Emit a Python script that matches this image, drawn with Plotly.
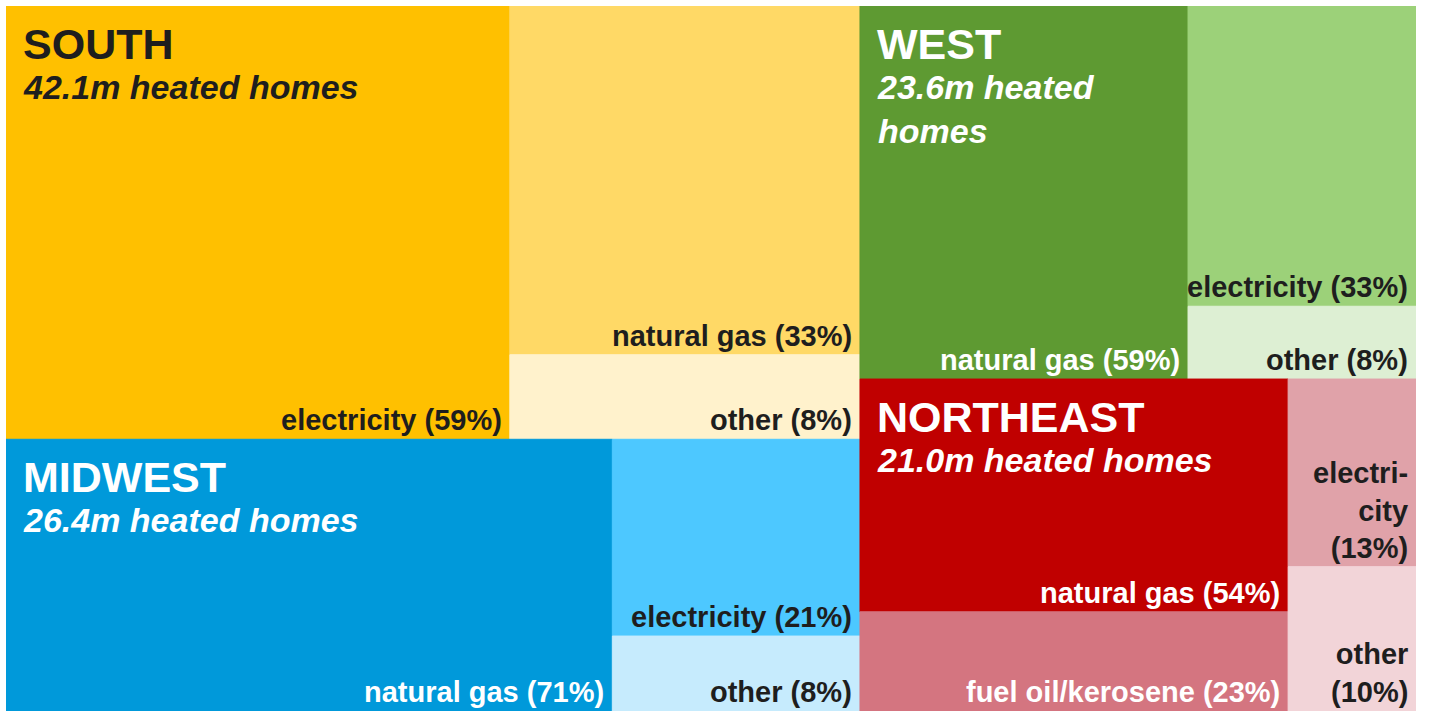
import plotly.graph_objects as go

# ---- data ----
regions = ["SOUTH", "MIDWEST", "WEST", "NORTHEAST"]
homes_m = [42.1, 26.4, 23.6, 21.0]
south_fuels = ["electricity", "natural gas", "other"]
south_pct = [59, 33, 8]
midwest_fuels = ["natural gas", "electricity", "other"]
midwest_pct = [71, 21, 8]
west_fuels = ["natural gas", "electricity", "other"]
west_pct = [59, 33, 8]
northeast_fuels = ["natural gas", "fuel oil/kerosene", "electricity", "other"]
northeast_pct = [54, 23, 13, 10]

# ---- layout structure / styling ----
fuels = {"SOUTH": south_fuels, "MIDWEST": midwest_fuels, "WEST": west_fuels, "NORTHEAST": northeast_fuels}
pcts = {"SOUTH": south_pct, "MIDWEST": midwest_pct, "WEST": west_pct, "NORTHEAST": northeast_pct}
columns = [["SOUTH", "MIDWEST"], ["WEST", "NORTHEAST"]]
groups = {"SOUTH": [[0], [1, 2]], "MIDWEST": [[0], [1, 2]], "WEST": [[0], [1, 2]], "NORTHEAST": [[0, 1], [2, 3]]}
colors = {
    "SOUTH": ["#FFC000", "#FFD966", "#FFF2CC"],
    "MIDWEST": ["#0099DA", "#4DC8FF", "#C6EBFD"],
    "WEST": ["#5E9A32", "#9CD179", "#DDEFD3"],
    "NORTHEAST": ["#C00000", "#D47580", "#E0A2A9", "#F2D4D8"],
}
DARK = "#1E1E1E"
WHITE = "#FFFFFF"
text_colors = {
    "SOUTH": [DARK, DARK, DARK],
    "MIDWEST": [WHITE, DARK, DARK],
    "WEST": [WHITE, DARK, DARK],
    "NORTHEAST": [WHITE, WHITE, DARK, DARK],
}
title_colors = {"SOUTH": DARK, "MIDWEST": WHITE, "WEST": WHITE, "NORTHEAST": WHITE}
label_override = {("NORTHEAST", 2): "electri-<br>city<br>(13%)", ("NORTHEAST", 3): "other<br>(10%)"}
subtitle_override = {"WEST": "23.6m heated<br>homes"}

FONT = "Liberation Sans, Arial, sans-serif"

homes = dict(zip(regions, homes_m))
total = sum(homes_m)

fig = go.Figure()
annotations = []

x0 = 0.0
for col in columns:
    col_total = sum(homes[r] for r in col)
    w = col_total / total
    ytop = 1.0
    for r in col:
        h = homes[r] / col_total
        rx0, rx1, ry1, ry0 = x0, x0 + w, ytop, ytop - h
        ps = pcts[r]
        ptot = sum(ps)
        gx = rx0
        for g in groups[r]:
            gsum = sum(ps[i] for i in g)
            gw = (rx1 - rx0) * gsum / ptot
            cy = ry1
            for i in g:
                ch = (ry1 - ry0) * ps[i] / gsum
                cx0, cx1, cy1, cy0 = gx, gx + gw, cy, max(cy - ch, 0.0)
                cx1 = min(cx1, 1.0)
                c = colors[r][i]
                fig.add_trace(go.Scatter(
                    x=[cx0, cx1, cx1, cx0, cx0], y=[cy0, cy0, cy1, cy1, cy0],
                    mode="lines", fill="toself", fillcolor=c,
                    line=dict(color=c, width=1), hoverinfo="skip", showlegend=False))
                label = label_override.get((r, i), f"{fuels[r][i]} ({ps[i]}%)")
                annotations.append(dict(
                    x=cx1, y=cy0, xref="x", yref="y", text=f"<b>{label}</b>",
                    showarrow=False, xanchor="right", yanchor="bottom", align="right",
                    xshift=-6, yshift=1,
                    font=dict(family=FONT, size=29, color=text_colors[r][i])))
                cy = cy0
            gx += gw
        # region title and subtitle
        annotations.append(dict(
            x=rx0, y=ry1, xref="x", yref="y", text=f"<b>{r}</b>",
            showarrow=False, xanchor="left", yanchor="top", align="left",
            xshift=15, yshift=-12,
            font=dict(family=FONT, size=43, color=title_colors[r])))
        sub = subtitle_override.get(r, f"{homes[r]:.1f}m heated homes")
        annotations.append(dict(
            x=rx0, y=ry1, xref="x", yref="y", text=f"<b><i>{sub}</i></b>",
            showarrow=False, xanchor="left", yanchor="top", align="left",
            xshift=15, yshift=-60,
            font=dict(family=FONT, size=34, color=title_colors[r])))
        ytop = ry0
    x0 += w

fig.update_layout(
    width=1430, height=711,
    margin=dict(l=6, r=14, t=6, b=0),
    paper_bgcolor="white", plot_bgcolor="white",
    xaxis=dict(range=[0, 1], visible=False, fixedrange=True),
    yaxis=dict(range=[0, 1], visible=False, fixedrange=True),
    annotations=annotations,
    showlegend=False,
)
fig.write_html("out.html", config={"displayModeBar": False},
               post_script="document.body.style.margin='0';")
